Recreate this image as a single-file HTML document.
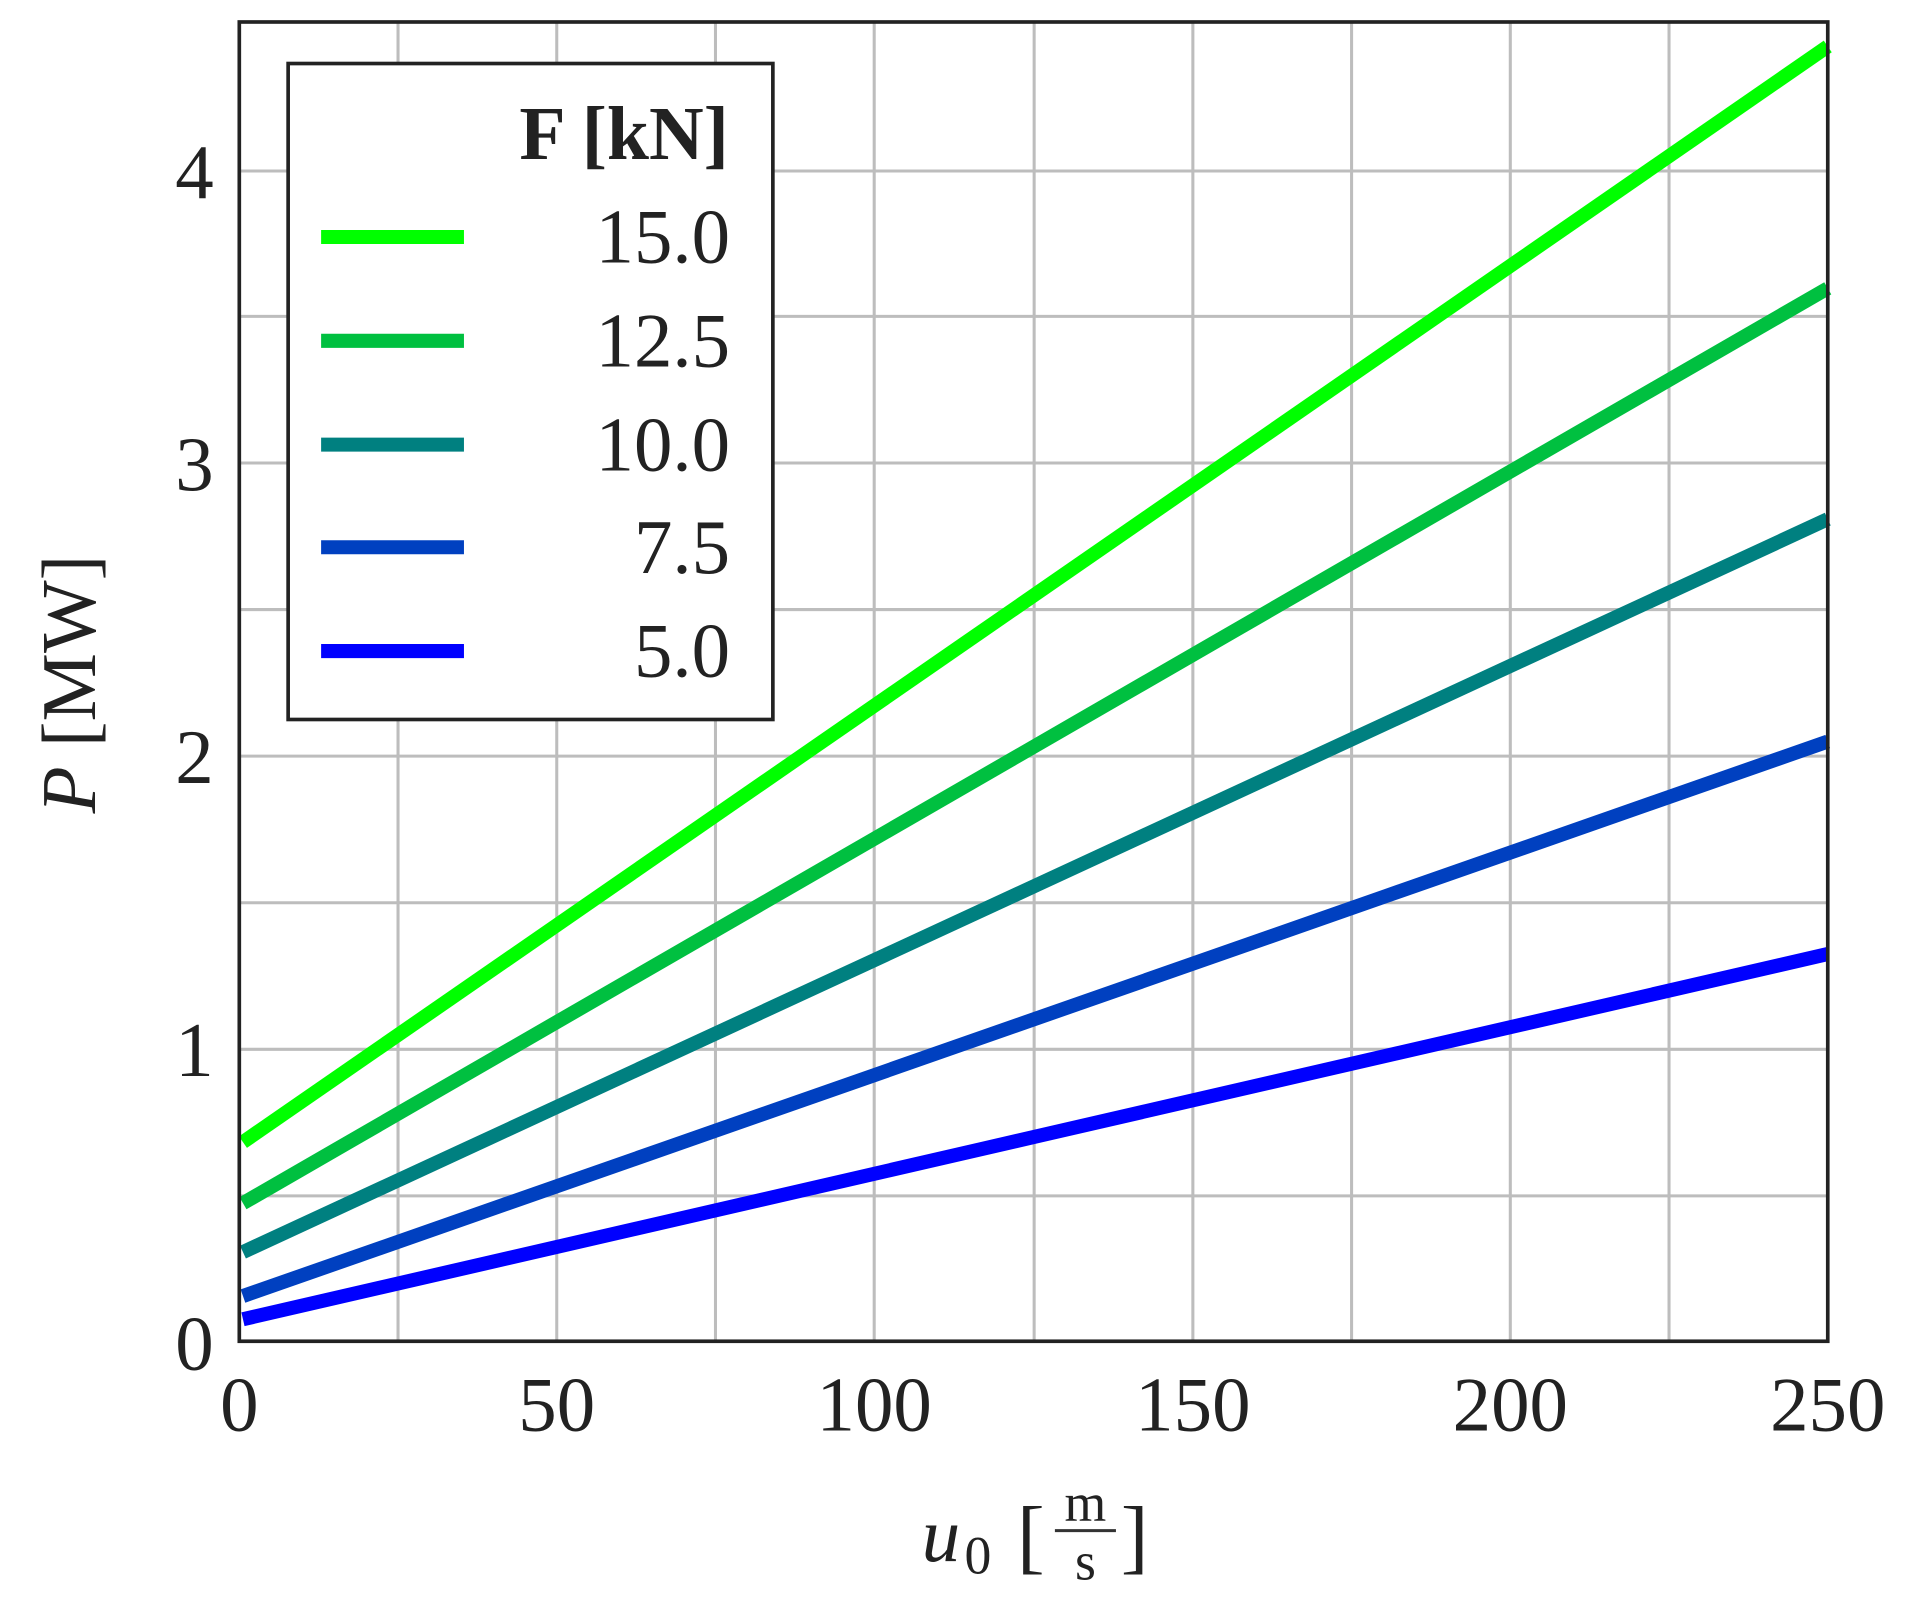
<!DOCTYPE html>
<html><head><meta charset="utf-8"><style>
html,body{margin:0;padding:0;background:#fff;}
svg{display:block;}
text{font-family:"Liberation Serif",serif;fill:#222;}
</style></head><body>
<svg width="1912" height="1610" viewBox="0 0 1566 1318" preserveAspectRatio="none" xmlns="http://www.w3.org/2000/svg">
<rect width="1566" height="1318" fill="#fff"/>
<g stroke="#bdbdbd" stroke-width="2.5">
<line x1="326" y1="18" x2="326" y2="1098"/><line x1="456" y1="18" x2="456" y2="1098"/>
<line x1="586" y1="18" x2="586" y2="1098"/><line x1="716" y1="18" x2="716" y2="1098"/>
<line x1="847" y1="18" x2="847" y2="1098"/><line x1="977" y1="18" x2="977" y2="1098"/>
<line x1="1107" y1="18" x2="1107" y2="1098"/><line x1="1237" y1="18" x2="1237" y2="1098"/>
<line x1="1367" y1="18" x2="1367" y2="1098"/>
<line x1="196" y1="979" x2="1497" y2="979"/><line x1="196" y1="859" x2="1497" y2="859"/>
<line x1="196" y1="739" x2="1497" y2="739"/><line x1="196" y1="619" x2="1497" y2="619"/>
<line x1="196" y1="499" x2="1497" y2="499"/><line x1="196" y1="379" x2="1497" y2="379"/>
<line x1="196" y1="259" x2="1497" y2="259"/><line x1="196" y1="140" x2="1497" y2="140"/>
</g>
<g stroke-width="11.5" stroke-linecap="butt">
<line x1="199" y1="1080" x2="1497" y2="781" stroke="#0000ff"/>
<line x1="199" y1="1061" x2="1497" y2="607" stroke="#0040c0"/>
<line x1="199" y1="1025" x2="1497" y2="425" stroke="#008080"/>
<line x1="199" y1="985" x2="1497" y2="236" stroke="#00c040"/>
<line x1="199" y1="935" x2="1497" y2="38" stroke="#00ff00"/>
</g>
<rect x="196" y="18" width="1301" height="1080" fill="none" stroke="#222" stroke-width="3"/>
<rect x="236" y="52" width="397" height="537" fill="#fff" stroke="#222" stroke-width="3"/>
<text x="597" y="130" font-size="62" font-weight="bold" text-anchor="end">F [kN]</text>
<g stroke-width="11.5">
<line x1="263" y1="194" x2="380" y2="194" stroke="#00ff00"/>
<line x1="263" y1="279" x2="380" y2="279" stroke="#00c040"/>
<line x1="263" y1="364" x2="380" y2="364" stroke="#008080"/>
<line x1="263" y1="448" x2="380" y2="448" stroke="#0040c0"/>
<line x1="263" y1="533" x2="380" y2="533" stroke="#0000ff"/>
</g>
<g font-size="63" text-anchor="end">
<text x="598" y="215">15.0</text><text x="598" y="300">12.5</text>
<text x="598" y="385">10.0</text><text x="598" y="469">7.5</text>
<text x="598" y="554">5.0</text>
</g>
<g font-size="63" text-anchor="end">
<text x="175" y="1121">0</text><text x="175" y="881">1</text>
<text x="175" y="641">2</text><text x="175" y="401">3</text><text x="175" y="162">4</text>
</g>
<g font-size="63" text-anchor="middle">
<text x="196" y="1171">0</text><text x="456" y="1171">50</text>
<text x="716" y="1171">100</text><text x="977" y="1171">150</text>
<text x="1237" y="1171">200</text><text x="1497" y="1171">250</text>
</g>
<text transform="translate(78,560) rotate(-90)" font-size="63" text-anchor="middle" fill="#333"><tspan font-style="italic">P</tspan> [MW]</text>
<text x="755" y="1278" font-size="63" font-style="italic" fill="#333">u</text>
<text x="790" y="1288" font-size="44" fill="#333">0</text>
<text x="833" y="1280" font-size="68" fill="#333">[</text>
<text x="889" y="1245" font-size="44" text-anchor="middle" fill="#333">m</text>
<line x1="864" y1="1253" x2="914" y2="1253" stroke="#333" stroke-width="2.5"/>
<text x="889" y="1293" font-size="44" text-anchor="middle" fill="#333">s</text>
<text x="918" y="1280" font-size="68" fill="#333">]</text>
</svg>
</body></html>
